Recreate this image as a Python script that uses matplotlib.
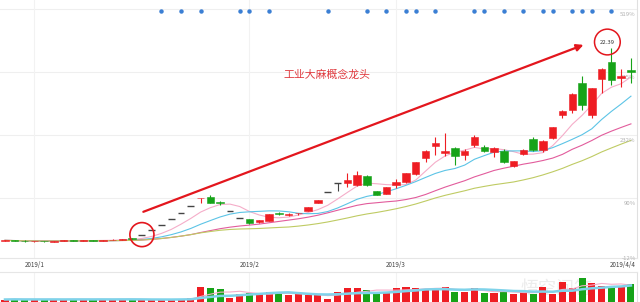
import matplotlib.pyplot as plt
import numpy as np
import pandas as pd
from matplotlib.patches import Rectangle

plt.rcParams['font.family'] = ['Noto Sans CJK SC', 'DejaVu Sans']

# daily candles 2018/12/26 .. 2019/4/4
opens = [3.90, 3.96, 3.92, 3.86, 3.89, 3.85, 3.91, 3.95, 3.92, 3.97, 3.94, 3.98, 4.01, 4.14,
         4.51, 4.96, 5.46, 6.01, 6.61, 7.27, 7.98, 8.15, 7.67, 6.79, 6.11,
         5.98, 5.72, 5.85, 6.56, 6.38, 6.55, 6.80, 7.57, 8.61, 9.47,
         9.50, 9.27, 10.13, 8.66, 8.43, 9.30, 9.53, 10.32, 11.85, 13.00,
         12.33, 12.81, 12.14, 13.07, 12.91, 12.43, 12.52, 11.12, 12.21, 13.65,
         12.62, 13.74, 16.00, 16.45, 19.07, 15.97, 19.39, 21.02, 19.55, 20.28]
highs = [3.99, 3.98, 3.95, 3.92, 3.93, 3.93, 3.98, 3.97, 3.99, 3.99, 4.01, 4.05, 4.12, 4.15,
         4.51, 4.96, 5.46, 6.01, 6.61, 7.27, 8.00, 8.31, 7.76, 6.79, 6.11,
         6.05, 5.95, 6.50, 6.70, 6.55, 6.62, 7.18, 7.85, 8.61, 9.47,
         10.40, 10.64, 10.25, 8.70, 9.10, 9.81, 10.45, 11.43, 12.57, 13.90,
         14.25, 12.90, 12.70, 14.05, 13.10, 12.90, 12.70, 11.60, 12.73, 13.89,
         13.60, 14.86, 16.45, 18.05, 19.71, 18.60, 20.45, 22.39, 20.35, 21.40]
lows = [3.86, 3.90, 3.84, 3.83, 3.84, 3.83, 3.89, 3.90, 3.90, 3.91, 3.92, 3.96, 4.00, 4.05,
        4.51, 4.96, 5.46, 6.01, 6.61, 7.27, 7.55, 7.50, 7.35, 6.79, 6.11,
        5.50, 5.65, 5.80, 6.40, 6.33, 6.40, 6.75, 7.50, 8.61, 8.72,
        9.10, 9.20, 9.15, 8.30, 8.40, 8.95, 9.50, 10.20, 11.50, 12.15,
        12.00, 11.18, 11.66, 12.90, 12.40, 11.90, 11.40, 10.98, 12.10, 12.55,
        12.40, 13.70, 15.69, 16.20, 16.45, 15.69, 18.08, 18.85, 18.63, 19.00]
closes = [3.96, 3.92, 3.86, 3.89, 3.86, 3.91, 3.95, 3.92, 3.97, 3.94, 3.99, 4.02, 4.10, 4.10,
          4.51, 4.96, 5.46, 6.01, 6.61, 7.27, 8.00, 7.57, 7.54, 6.79, 6.11,
          5.60, 5.91, 6.46, 6.53, 6.48, 6.56, 7.13, 7.83, 8.61, 9.47,
          9.70, 10.20, 9.24, 8.31, 9.05, 9.53, 10.39, 11.43, 12.57, 13.30,
          12.57, 12.05, 12.52, 13.90, 12.52, 12.81, 11.50, 11.57, 12.62, 12.62,
          13.51, 14.86, 16.38, 18.02, 16.90, 18.53, 20.38, 19.33, 19.71, 20.12]
# volume, 万手
volumes = [32.5, 32.8, 32.4, 32.6, 32.5, 32.7, 32.4, 32.8, 32.6, 32.5, 32.7, 32.6, 32.8, 32.9,
           32.0, 31.8, 32.2, 32.6, 33.5, 34.0, 45.3, 43.7, 42.7, 34.3, 37.7,
           38.7, 38.7, 39.7, 38.7, 37, 37.7, 37, 37, 33, 40.3,
           44.3, 43.7, 42, 39.3, 40.3, 43.7, 45.3, 43.7, 42.7, 42.7,
           44.7, 39.7, 40.3, 43.7, 38.7, 39.3, 40.3, 38, 41, 38,
           45.3, 38, 50.3, 43.7, 53.7, 48.7, 46.3, 46.3, 45.3, 47.7]

month_pos = [3, 25, 40]
month_labels = ['2019/1', '2019/2', '2019/3']
last_label = '2019/4/4'

base_price = 4.22
pct_ticks = [519, 375, 232, 90]
bottom_pct = '-12%'

dot_days = [16, 18, 20, 24, 25, 27, 33, 37, 39, 41, 42, 44, 48, 49, 51, 53, 55, 56, 58, 59, 60, 62]

RED = '#ee1d23'
GREEN = '#16a318'
DARK = '#444444'
ma_colors = {5: '#f5adc9', 10: '#5cc4e6', 20: '#e25c9c', 30: '#bfcb63'}

n = len(closes)
idx = np.arange(n)
close_s = pd.Series(closes)

fig = plt.figure(figsize=(6.4, 3.02), dpi=100)
ax = fig.add_axes([0, 44 / 302, 637 / 640, 258 / 302])
vax = fig.add_axes([0, 0, 637 / 640, 30 / 302])

# grid
for p in pct_ticks:
    price = base_price * (1 + p / 100)
    ax.axhline(price, color='#efefef', lw=0.8, zorder=0)
    ax.text(0.998, price - 0.25, f'{p}%', transform=ax.get_yaxis_transform(),
            ha='right', va='top', fontsize=4.3, color='#b0b0b0')
for m in month_pos:
    ax.axvline(m, color='#f2f2f2', lw=0.8, zorder=0)
    vax.axvline(m, color='#f2f2f2', lw=0.8, zorder=0)

# moving averages
for w, c in ma_colors.items():
    ma = close_s.rolling(w, min_periods=1).mean()
    ax.plot(idx, ma, color=c, lw=0.8, zorder=2)

# candles
for i in range(n):
    o, h, l, c = opens[i], highs[i], lows[i], closes[i]
    if h == l:
        ax.hlines(c, i - 0.35, i + 0.35, color=DARK, lw=1.0, zorder=3)
        continue
    if o == c:
        col = DARK
    else:
        col = RED if c > o else GREEN
    ax.vlines(i, l, h, color=col, lw=0.8, zorder=3)
    if o == c:
        ax.hlines(c, i - 0.38, i + 0.38, color=col, lw=1.0, zorder=3)
    else:
        ax.add_patch(Rectangle((i - 0.38, min(o, c)), 0.76, max(abs(c - o), 0.06),
                               facecolor=col, edgecolor=col, lw=0.4, zorder=4))

ax.set_xlim(-0.51, 64.62)
ax.set_ylim(2.27, 26.99)

# event dots along the top
ax.plot(dot_days, [0.957] * len(dot_days), 'o', color='#3b7fd4', ms=2.2,
        transform=ax.get_xaxis_transform(), clip_on=False)

# notes
ax.text(0.514, 0.709, '工业大麻概念龙头', transform=ax.transAxes, ha='center', va='center',
        fontsize=7.8, color='#e0393e')
ax.annotate('', xy=(0.916, 0.826), xytext=(0.225, 0.179), xycoords='axes fraction',
            arrowprops=dict(arrowstyle='-|>', color='#e3161d', lw=1.6, mutation_scale=10,
                            shrinkA=0, shrinkB=0))
ax.scatter([14], [closes[14]], s=300, facecolors='none', edgecolors='#e3161d', lw=1.2, zorder=5)
top = int(np.argmax(highs))
ax.annotate(f'{highs[top]:.2f}', xy=(top, highs[top]), xytext=(-4, 6), textcoords='offset pixels',
            ha='center', va='center', fontsize=4.3, color='#333333',
            bbox=dict(boxstyle='circle,pad=0.9', fc='none', ec='#e3161d', lw=1.1))

for s in ax.spines.values():
    s.set_visible(False)
ax.spines['bottom'].set_visible(True)
ax.spines['bottom'].set_color('#e6e6e6')
ax.spines['right'].set_visible(True)
ax.spines['right'].set_color('#e0e0e0')
ax.set_xticks([])
ax.set_yticks([])

# date labels between panes
for m, lab in zip(month_pos, month_labels):
    ax.text(m, -0.027, lab, transform=ax.get_xaxis_transform(), ha='center', va='center',
            fontsize=4.5, color='#444444', clip_on=False)
ax.text(0.998, -0.027, last_label, transform=ax.transAxes, ha='right', va='center',
        fontsize=4.5, color='#444444')
ax.text(0.998, -0.002, bottom_pct, transform=ax.transAxes, ha='right', va='center',
        fontsize=4.3, color='#b0b0b0')

# volume pane
vcols = [RED if closes[i] >= opens[i] else GREEN for i in range(n)]
vax.bar(idx, volumes, width=0.72, color=vcols, zorder=2)
vol_s = pd.Series(volumes)
vax.plot(idx, vol_s.rolling(5, min_periods=1).mean(), color='#f5adc9', lw=0.8, zorder=3)
vax.plot(idx, vol_s.rolling(10, min_periods=1).mean(), color='#7fd3ea', lw=1.8, zorder=3)
vax.set_xlim(-0.51, 64.62)
vax.set_ylim(30, 60)
for s in vax.spines.values():
    s.set_visible(False)
vax.spines['top'].set_visible(True)
vax.spines['top'].set_color('#e6e6e6')
vax.spines['right'].set_visible(True)
vax.spines['right'].set_color('#e0e0e0')
vax.set_xticks([])
vax.set_yticks([])
vax.text(0.93, 0.45, '悟空问答', transform=vax.transAxes, ha='right', va='center',
         fontsize=13, color='#ececec', zorder=1)

fig.savefig('out.png', dpi=100)
